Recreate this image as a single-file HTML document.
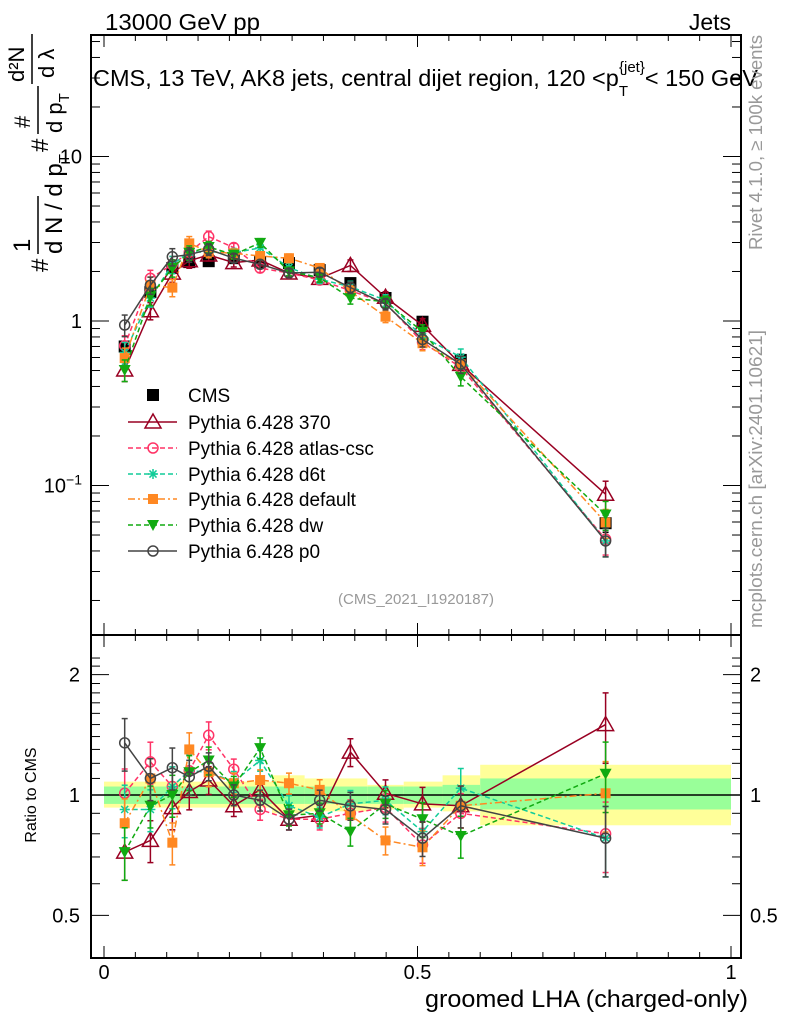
<!DOCTYPE html>
<html><head><meta charset="utf-8"><style>
body{margin:0;background:#fff;}
svg text{font-family:"Liberation Sans",sans-serif;}
</style></head><body>
<svg id="c" width="786" height="1024" viewBox="0 0 786 1024" xmlns="http://www.w3.org/2000/svg">
<text x="105" y="30" font-size="23" textLength="155" lengthAdjust="spacingAndGlyphs">13000 GeV pp</text>
<text x="731" y="30" font-size="23" text-anchor="end">Jets</text>
<text x="93" y="86" font-size="23.5">CMS, 13 TeV, AK8 jets, central dijet region, 120 &lt;p<tspan font-size="15" dy="10">T</tspan><tspan font-size="15" dy="-24" dx="-9">{jet}</tspan><tspan dy="14">&lt; 150 GeV</tspan></text>
<text transform="translate(762,250) rotate(-90)" font-size="18" textLength="215" lengthAdjust="spacingAndGlyphs" fill="#999">Rivet 4.1.0, ≥ 100k events</text>
<text transform="translate(762,628) rotate(-90)" font-size="18" textLength="298" lengthAdjust="spacingAndGlyphs" fill="#999">mcplots.cern.ch [arXiv:2401.10621]</text>
<g transform="translate(48,272) rotate(-90)">
<text x="0" y="0" font-size="24">#</text>
<text x="20" y="-18" font-size="24">1</text><line x1="18" y1="-10" x2="76" y2="-10" stroke="#000" stroke-width="1.5"/>
<text x="18" y="14" font-size="24">d N / d p<tspan font-size="15" dy="7">T</tspan></text>
<text x="120" y="0" font-size="24">#</text>
<text x="144" y="-18" font-size="22">#</text><line x1="138" y1="-10" x2="186" y2="-10" stroke="#000" stroke-width="1.5"/>
<text x="139" y="14" font-size="22">d p<tspan font-size="15" dy="7">T</tspan></text>
<text x="190" y="-24" font-size="22">d²N</text><line x1="188" y1="-16" x2="238" y2="-16" stroke="#000" stroke-width="1.5"/>
<text x="194" y="6" font-size="22">d λ</text>
</g>
<text transform="translate(36,795) rotate(-90)" font-size="16" text-anchor="middle">Ratio to CMS</text>
<text x="748" y="1007" font-size="24" text-anchor="end" textLength="323" lengthAdjust="spacingAndGlyphs">groomed LHA (charged-only)</text>
<text x="416" y="604" font-size="15" fill="#999" text-anchor="middle">(CMS_2021_I1920187)</text>
<g id="main"></g><g id="ratio"></g><g id="axes"></g><g id="legend"></g>
</svg>
<script>
const xs=[0.033,0.074,0.109,0.136,0.167,0.207,0.249,0.295,0.344,0.393,0.449,0.508,0.569,0.8];
const cmsVals=[0.70,1.50,2.10,2.28,2.31,2.41,2.28,2.25,2.04,1.70,1.38,0.99,0.58,0.059];
const cmsErr=[0.06,0.05,0.05,0.05,0.05,0.05,0.05,0.05,0.05,0.06,0.06,0.07,0.08,0.12];
const r370=[0.72,0.77,0.93,1.02,1.09,0.94,1.03,0.87,0.89,1.28,1.01,0.95,0.94,1.50];
const rAtlas=[1.01,1.21,1.05,1.15,1.41,1.16,0.92,0.87,0.87,0.90,0.93,0.75,0.90,0.80];
const rD6t=[0.92,0.92,1.05,1.15,1.14,1.08,1.22,0.94,0.88,0.95,0.97,0.81,1.04,0.78];
const rDefault=[0.85,1.10,0.76,1.30,1.14,1.07,1.09,1.07,1.03,0.89,0.77,0.74,0.94,1.01];
const rDw=[0.72,0.94,1.00,1.14,1.22,1.05,1.31,0.89,0.90,0.81,0.95,0.87,0.79,1.13];
const rP0=[1.35,1.10,1.17,1.11,1.18,1.00,0.97,0.87,0.97,0.94,0.92,0.78,0.94,0.78];
const relErr=[0.15,0.12,0.12,0.10,0.08,0.06,0.06,0.06,0.06,0.08,0.08,0.10,0.12,0.20];
const bandEdges=[0,0.268,0.32,0.42,0.478,0.54,0.6,1.0];
const yellowHi=[1.08,1.12,1.10,1.06,1.08,1.12,1.19];
const yellowLo=[0.93,0.90,0.91,0.92,0.93,0.91,0.84];
const greenHi=[1.05,1.05,1.05,1.05,1.05,1.06,1.10];
const greenLo=[0.95,0.95,0.95,0.95,0.95,0.94,0.92];
const seriesNames=["Pythia 6.428 370","Pythia 6.428 atlas-csc","Pythia 6.428 d6t","Pythia 6.428 default","Pythia 6.428 dw","Pythia 6.428 p0"];

const NS="http://www.w3.org/2000/svg";
const X=v=>104+627*v;
const Y=v=>321-164.5*Math.log10(v);
const R=v=>795-400*Math.log10(v);
function mk(t,a,p){const e=document.createElementNS(NS,t);for(const k in a)e.setAttribute(k,a[k]);p.appendChild(e);return e;}
const main=document.getElementById('main'),ratio=document.getElementById('ratio'),axes=document.getElementById('axes'),leg=document.getElementById('legend');

for(let i=0;i<bandEdges.length-1;i++){
 const x1=X(bandEdges[i]),x2=X(bandEdges[i+1]);
 let b=mk('rect',{x:x1,y:R(yellowHi[i]),width:x2-x1,height:R(yellowLo[i])-R(yellowHi[i]),fill:'#ffff99'},ratio);
 
 
 let g=mk('rect',{x:x1,y:R(greenHi[i]),width:x2-x1,height:R(greenLo[i])-R(greenHi[i]),fill:'#99ff99'},ratio);
 
 
}
mk('line',{x1:91,x2:741,y1:795,y2:795,stroke:'#000','stroke-width':1.5},ratio);

function marker(p,kind,x,y,col,s){
 let e;
 if(kind==='sq')e=mk('rect',{x:x-s,y:y-s,width:2*s,height:2*s,fill:col},p);
 else if(kind==='tri')e=mk('polygon',{points:`${x},${y-8} ${x-8},${y+6} ${x+8},${y+6}`,fill:'#fff','fill-opacity':0,stroke:col,'stroke-width':1.5},p);
 else if(kind==='circ')e=mk('circle',{cx:x,cy:y,r:s,fill:'none',stroke:col,'stroke-width':1.5},p);
 else if(kind==='star'){e=mk('g',{},p);for(let a=0;a<4;a++){const an=a*Math.PI/4;mk('line',{x1:x-s*Math.cos(an),y1:y-s*Math.sin(an),x2:x+s*Math.cos(an),y2:y+s*Math.sin(an),stroke:col,'stroke-width':1.5},e);}}
 else if(kind==='dtri')e=mk('polygon',{points:`${x-6},${y-5} ${x+6},${y-5} ${x},${y+6}`,fill:col},p);
 return e;
}
const styles=[
 {col:'#990022',dash:'',kind:'tri',s:8},
 {col:'#ff3366',dash:'5,3',kind:'circ',s:5},
 {col:'#11cc99',dash:'5,3',kind:'star',s:5},
 {col:'#ff8822',dash:'7,3,2,3',kind:'sq',s:5},
 {col:'#11aa11',dash:'5,3',kind:'dtri',s:6},
 {col:'#444444',dash:'',kind:'circ',s:5}
];
const ratios=[r370,rAtlas,rD6t,rDefault,rDw,rP0];

function errbar(p,x,y1,y2,col){
 mk('line',{x1:x,x2:x,y1:y1,y2:y2,stroke:col,'stroke-width':1.5},p);
 mk('line',{x1:x-3,x2:x+3,y1:y1,y2:y1,stroke:col,'stroke-width':1.5},p);
 mk('line',{x1:x-3,x2:x+3,y1:y2,y2:y2,stroke:col,'stroke-width':1.5},p);
}
const cg=mk('g',{},main);


xs.forEach((x,i)=>{errbar(cg,X(x),Y(cmsVals[i]*(1+cmsErr[i])),Y(cmsVals[i]*(1-cmsErr[i])),'#000');marker(cg,'sq',X(x),Y(cmsVals[i]),'#000',6);});

ratios.forEach((r,si)=>{
 const st=styles[si];
 const gm=mk('g',{},main);
 
 
 const gr=mk('g',{},ratio);
 
 
 const vals=r.map((v,i)=>v*cmsVals[i]);
 mk('polyline',{points:xs.map((x,i)=>X(x)+','+Y(vals[i])).join(' '),fill:'none',stroke:st.col,'stroke-width':1.5,'stroke-dasharray':st.dash},gm);
 mk('polyline',{points:xs.map((x,i)=>X(x)+','+R(r[i])).join(' '),fill:'none',stroke:st.col,'stroke-width':1.5,'stroke-dasharray':st.dash},gr);
 xs.forEach((x,i)=>{
  errbar(gm,X(x),Y(vals[i]*(1+relErr[i])),Y(vals[i]*(1-relErr[i])),st.col);
  marker(gm,st.kind,X(x),Y(vals[i]),st.col,st.s);
  errbar(gr,X(x),R(r[i]*(1+relErr[i])),R(r[i]*(1-relErr[i])),st.col);
  marker(gr,st.kind,X(x),R(r[i]),st.col,st.s);
 });
});

mk('rect',{x:91,y:35,width:650,height:600,fill:'none',stroke:'#000','stroke-width':2},axes);
mk('rect',{x:91,y:635,width:650,height:323,fill:'none',stroke:'#000','stroke-width':2},axes);
for(let k=0;k<=20;k++){const v=k*0.05,x=X(v),L=(k%10===0)?12:6;
 [[35,1],[635,-1],[635,1],[958,-1]].forEach(([y,d])=>mk('line',{x1:x,x2:x,y1:y,y2:y+d*L,stroke:'#000','stroke-width':1},axes));}
[[0,'0'],[0.5,'0.5'],[1,'1']].forEach(([v,t])=>{const e=mk('text',{x:X(v),y:979,'font-size':20,'text-anchor':'middle'},axes);e.textContent=t;});
for(let d=-2;d<=1;d++)for(let m=1;m<10;m++){const v=m*Math.pow(10,d),y=Y(v);if(y<35||y>635)continue;const L=m===1?18:9;
 mk('line',{x1:91,x2:91+L,y1:y,y2:y,stroke:'#000'},axes);mk('line',{x1:741,x2:741-L,y1:y,y2:y,stroke:'#000'},axes);}
[[10,'10'],[1,'1']].forEach(([v,t])=>{const e=mk('text',{x:82,y:Y(v)+7,'font-size':20,'text-anchor':'end'},axes);e.textContent=t;});
const e10=mk('text',{x:82,y:Y(0.1)+7,'font-size':20,'text-anchor':'end'},axes);e10.innerHTML='10<tspan font-size="14" dy="-8">−1</tspan>';
for(let v=0.5;v<=2.3;v+=0.1){const y=R(v);if(y<635||y>958)continue;const major=[0.5,1,2].some(q=>Math.abs(q-v)<1e-6);const L=major?18:9;
 mk('line',{x1:91,x2:91+L,y1:y,y2:y,stroke:'#000'},axes);mk('line',{x1:741,x2:741-L,y1:y,y2:y,stroke:'#000'},axes);}
[[2,'2'],[1,'1'],[0.5,'0.5']].forEach(([v,t])=>{let e=mk('text',{x:80,y:R(v)+7,'font-size':20,'text-anchor':'end'},axes);e.textContent=t;e=mk('text',{x:750,y:R(v)+7,'font-size':20},axes);e.textContent=t;});

const ly=[395,422,448,474,499,525,551];
let lg=mk('g',{},leg);


marker(lg,'sq',153,ly[0],'#000',6);
let lt=mk('text',{x:188,y:ly[0]+7,'font-size':19},lg);lt.textContent='CMS';
styles.forEach((st,i)=>{
 const g=mk('g',{},leg);
 
 
 const y=ly[i+1];
 mk('line',{x1:128,x2:177,y1:y,y2:y,stroke:st.col,'stroke-width':1.5,'stroke-dasharray':st.dash},g);
 marker(g,st.kind,153,y,st.col,st.s);
 const t=mk('text',{x:188,y:y+7,'font-size':19},g);t.textContent=seriesNames[i];
});
</script>
</body></html>
